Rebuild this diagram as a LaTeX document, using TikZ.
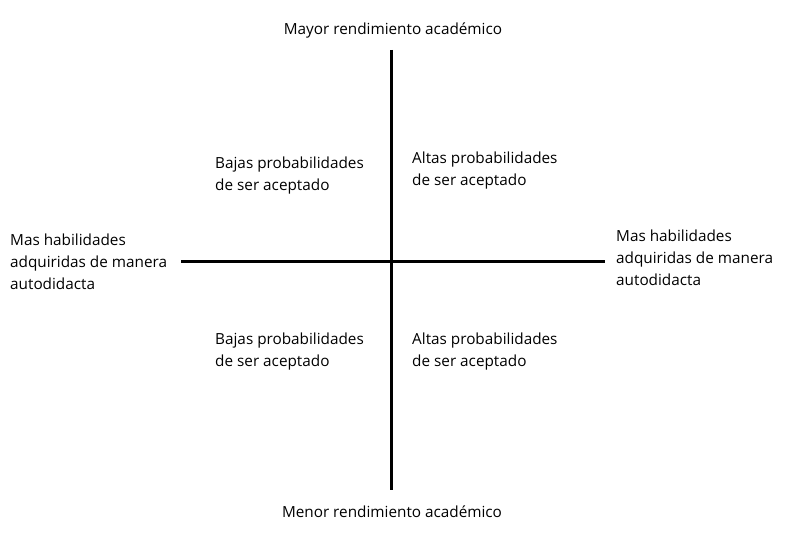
\documentclass[tikz,border=0pt]{standalone}
\usepackage{fontspec}
\setmainfont{Open Sans}
\usetikzlibrary{positioning}

\tikzset{
  axis line/.style={line width=3pt,black},
  label text/.style={inner sep=0pt,align=left,anchor=base west,
                     font=\fontsize{15.3}{22}\selectfont},
  pole text/.style={inner sep=0pt,anchor=base,
                    font=\fontsize{15.3}{22}\selectfont}
}

\begin{document}
\begin{tikzpicture}[x=1pt,y=-1pt]
  \useasboundingbox (0,0) rectangle (793,537);
  % axes
  \coordinate (top) at (391,50);
  \coordinate (bottom) at (391,490);
  \coordinate (left) at (181,262);
  \coordinate (right) at (605,262);
  \draw[axis line] (top) -- (bottom);
  \draw[axis line] (left) -- (right);
  % poles
  \node[pole text] (mayor) at (393,35) {Mayor rendimiento académico};
  \node[pole text] (menor) at (392,517) {Menor rendimiento académico};
  \node[label text] (leftlbl) at (10,290) {Mas habilidades\\adquiridas de manera\\autodidacta};
  \node[label text] (rightlbl) at (616,286) {Mas habilidades\\adquiridas de manera\\autodidacta};
  % quadrants
  \node[label text] (q2) at (215,191) {Bajas probabilidades\\de ser aceptado};
  \node[label text] (q1) at (412,186) {Altas probabilidades\\de ser aceptado};
  \node[label text] (q3) at (215,367) {Bajas probabilidades\\de ser aceptado};
  \node[label text] (q4) at (412,367) {Altas probabilidades\\de ser aceptado};
\end{tikzpicture}
\end{document}
